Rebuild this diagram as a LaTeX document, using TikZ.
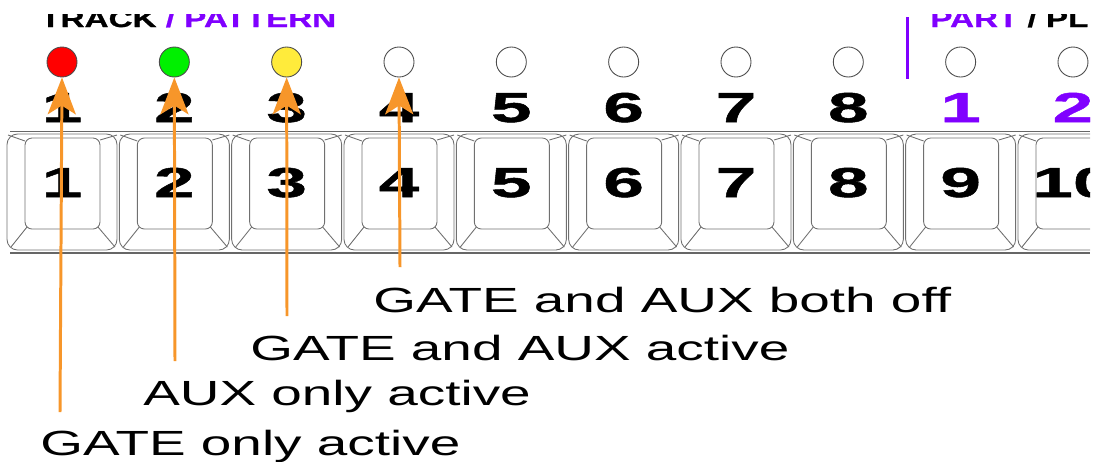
\documentclass[tikz,border=0pt]{standalone}
\usepackage{fontspec}
\setmainfont{Liberation Sans}
\newfontfamily\labelfont[FakeStretch=1.57]{Liberation Sans}
\newfontfamily\digitfont[FakeStretch=1.75,BoldFeatures={FakeBold=1.2}]{Liberation Sans}
\newfontfamily\headfont[FakeStretch=1.4,BoldFeatures={FakeBold=1}]{Liberation Sans}
\usepackage{tikz}
\usetikzlibrary{arrows.meta, positioning}
\usepackage{xcolor}
\definecolor{ledred}{HTML}{FF0000}
\definecolor{ledgreen}{HTML}{00F000}
\definecolor{ledyellow}{HTML}{FFEB3B}
\definecolor{ledoff}{HTML}{FFFFFF}
\definecolor{partpurple}{HTML}{8000FF}
\definecolor{arroworange}{HTML}{F7962A}
\definecolor{capgray}{HTML}{707070}

\begin{document}
\begin{tikzpicture}[
    x=0.02cm, y=-0.02cm,
    led/.style={circle, draw=black!70, line width=0.5pt,
                minimum size=30*0.02cm, inner sep=0pt},
    digit/.style={anchor=base, inner sep=0pt,
                  font=\digitfont\bfseries\fontsize{23.8}{26}\selectfont},
    header/.style={anchor=base west, inner sep=0pt,
                   font=\headfont\bfseries\fontsize{13.5}{15}\selectfont},
    callout/.style={anchor=base west, inner sep=0pt,
                    font=\labelfont\fontsize{19.9}{22}\selectfont},
    keyline/.style={draw=capgray, line width=0.5pt},
    pointer/.style={-{Stealth[length=21pt, width=16pt, inset=5pt]},
                    line width=1.7pt, draw=arroworange, fill=arroworange}
  ]
    \useasboundingbox (0,0) rectangle (1094,461);
    \begin{scope}
    \clip (0,0) rectangle (1090,461);

    \begin{scope}
      \clip (0,14) rectangle (1090,40);
      \node[header] (trackhdr) at (40,27)
        {TRACK \textcolor{partpurple}{/ PATTERN}};
      \node[header] (parthdr) at (930,27)
        {\textcolor{partpurple}{PART} / PL};
    \end{scope}
    \draw[partpurple, line width=1.7pt] (907,17) -- (907,79);

    \foreach \i/\col in {1/ledred, 2/ledgreen, 3/ledyellow, 4/ledoff, 5/ledoff,
                         6/ledoff, 7/ledoff, 8/ledoff, 9/ledoff, 10/ledoff} {
      \pgfmathsetmacro\cx{62+112.33*(\i-1)}
      \node[led, fill=\col] (led\i) at (\cx,62) {};
      \draw[keyline, rounded corners=6] (\cx-55,134) rectangle (\cx+55,250);
      \draw[keyline, rounded corners=4] (\cx-37,138) rectangle (\cx+38,229);
      \draw[keyline] (\cx-54,135) -- (\cx-37,141);
      \draw[keyline] (\cx+38,140) -- (\cx+55,135);
      \draw[keyline] (\cx-35,227) -- (\cx-51,247);
      \draw[keyline] (\cx+36,227) -- (\cx+53,247);
      \node[digit] (key\i) at (\cx,197) {\i};
    }
    \foreach \i in {1,...,8} {
      \node[digit] (num\i) at (led\i |- 0,122) {\i};
    }
    \node[digit, partpurple] (num9) at (led9 |- 0,122) {1};
    \node[digit, partpurple] (num10) at (led10 |- 0,122) {2};

    \draw[draw=black!60, line width=0.6pt] (10,131.5) -- (1090,131.5);
    \draw[draw=black!60, line width=0.6pt] (10,253) -- (1090,253);
    \end{scope}

    \node[callout] (bothoff) at (373,312) {GATE and AUX both off};
    \node[callout] (bothon) at (250,360) {GATE and AUX active};
    \node[callout] (auxonly) at (143,405) {AUX only active};
    \node[callout] (gateonly) at (40,455) {GATE only active};

    \coordinate (tail1) at (60,412);
    \coordinate (tail2) at (175,361);
    \coordinate (tail3) at (287,316);
    \coordinate (tail4) at (400,267);

    \draw[pointer] (tail1) -- (led1.south);
    \draw[pointer] (tail2) -- (led2.south);
    \draw[pointer] (tail3) -- (led3.south);
    \draw[pointer] (tail4) -- (led4.south);
  \end{tikzpicture}
\end{document}
